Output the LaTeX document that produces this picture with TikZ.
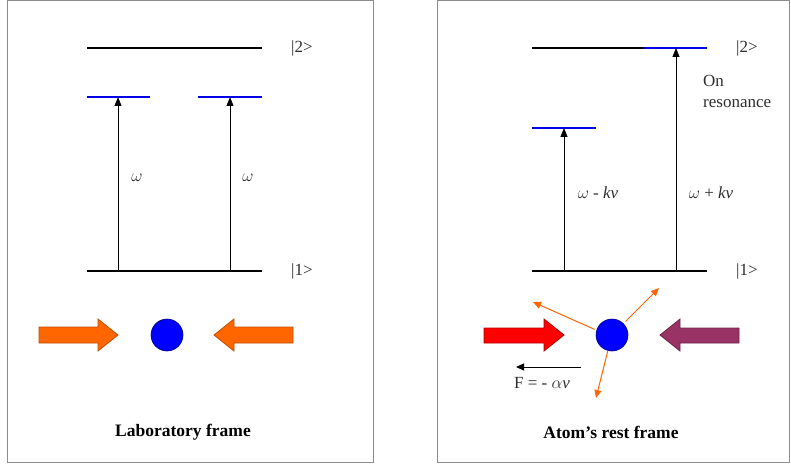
\documentclass[tikz,border=0pt]{standalone}
\usepackage{fontspec}
\setmainfont{Liberation Serif}
\usetikzlibrary{arrows.meta}
\definecolor{lvlblue}{RGB}{0,0,230}
\definecolor{txtgray}{RGB}{45,45,45}
\definecolor{orfill}{RGB}{255,102,0}
\definecolor{orstroke}{RGB}{190,80,0}
\definecolor{purp}{RGB}{153,51,102}
\definecolor{framegray}{RGB}{140,140,140}
\tikzset{
  frame/.style={draw=framegray, line width=1pt},
  lvl/.style={line width=2.8pt, black},
  vlvl/.style={line width=2pt, lvlblue},
  trans/.style={line width=0.9pt, -{Triangle[length=9pt,width=7pt]}},
  lab/.style={text=txtgray, font=\fontsize{17}{20}\selectfont, inner sep=1pt},
  ket/.style={text=txtgray, font=\fontsize{17}{20}\selectfont, inner sep=1pt, anchor=west},
  title/.style={font=\bfseries\fontsize{17.5}{20}\selectfont, inner sep=1pt},
  atom/.style={circle, fill=blue, draw=blue!50!black, line width=0.6pt, minimum size=32pt, inner sep=0pt},
  blk/.style={line width=0.8pt},
  emit/.style={draw=orfill, line width=1pt, -{Triangle[length=8pt,width=7pt]}}
}
\begin{document}
\begin{tikzpicture}[x=1pt,y=-1pt]
\useasboundingbox (0,0) rectangle (791,465);
% frames
\draw[frame] (7,1) rectangle (373,462);
\draw[frame] (437,1) rectangle (789,462);

% ---------- Laboratory frame ----------
\draw[lvl] (87,48) -- (262,48);
\draw[lvl] (87,271) -- (262,271);
\draw[vlvl] (87,97) -- (150,97);
\draw[vlvl] (198,97) -- (262,97);
\coordinate (La1) at (118,271); \coordinate (La2) at (118,97);
\coordinate (Lb1) at (230,271); \coordinate (Lb2) at (230,97);
\draw[trans] (La1) -- (La2);
\draw[trans] (Lb1) -- (Lb2);
\node[lab] (Lw1) at (137,178) {$\omega$};
\node[lab] (Lw2) at (248,178) {$\omega$};
\node[ket] (Lk2) at (290,48) {|2>};
\node[ket] (Lk1) at (290,271) {|1>};
\node[atom] (Latom) at (167,335) {};
\draw[blk, fill=orfill, draw=orstroke] (39,327) -- (98,327) -- (98,319) -- (118,335) -- (98,351) -- (98,343) -- (39,343) -- cycle;
\draw[blk, fill=orfill, draw=orstroke] (293,327) -- (234,327) -- (234,319) -- (214,335) -- (234,351) -- (234,343) -- (293,343) -- cycle;
\node[title] (Ltitle) at (183,432) {Laboratory frame};

% ---------- Atom's rest frame ----------
\draw[lvl] (532,48) -- (643,48);
\draw[vlvl] (643,48) -- (707,48);
\draw[vlvl] (532,128) -- (596,128);
\draw[lvl] (532,271) -- (707,271);
\coordinate (Ra1) at (564,271); \coordinate (Ra2) at (564,128);
\coordinate (Rb1) at (676,271); \coordinate (Rb2) at (676,48);
\draw[trans] (Ra1) -- (Ra2);
\draw[trans] (Rb1) -- (Rb2);
\node[lab] (Rw1) at (598,193) {$\omega$ - \textit{kv}};
\node[lab] (Rw2) at (711,193) {$\omega$ + \textit{kv}};
\node[ket] (Rk2) at (735,48) {|2>};
\node[ket] (Rk1) at (735,271) {|1>};
\node[ket, align=left, anchor=north west, text=txtgray] (Rres) at (702,74) {On\\[1pt]resonance};
\node[atom] (Ratom) at (612,335) {};
\draw[blk, fill=red, draw=red!70!black] (484,328) -- (544,328) -- (544,319) -- (564,335) -- (544,351) -- (544,343) -- (484,343) -- cycle;
\draw[blk, fill=purp, draw=purp!70!black] (739,328) -- (680,328) -- (680,319) -- (660,335) -- (680,351) -- (680,343) -- (739,343) -- cycle;
\coordinate (e1) at (533,302);
\coordinate (e2) at (659,288);
\coordinate (e3) at (596,398);
\draw[emit] (Ratom.160) ++(-2,0) -- (e1);
\draw[emit] (Ratom.45) ++(2,-2) -- (e2);
\draw[emit] (Ratom.255) -- (e3);
\coordinate (Fs) at (581,367); \coordinate (Fe) at (516,367);
\draw[line width=1pt, -{Triangle[length=8pt,width=7pt]}] (Fs) -- (Fe);
\node[lab] (F) at (542,383) {F = - $\alpha$\textit{v}};
\node[title] (Rtitle) at (611,432) {Atom’s rest frame};
\end{tikzpicture}
\end{document}
